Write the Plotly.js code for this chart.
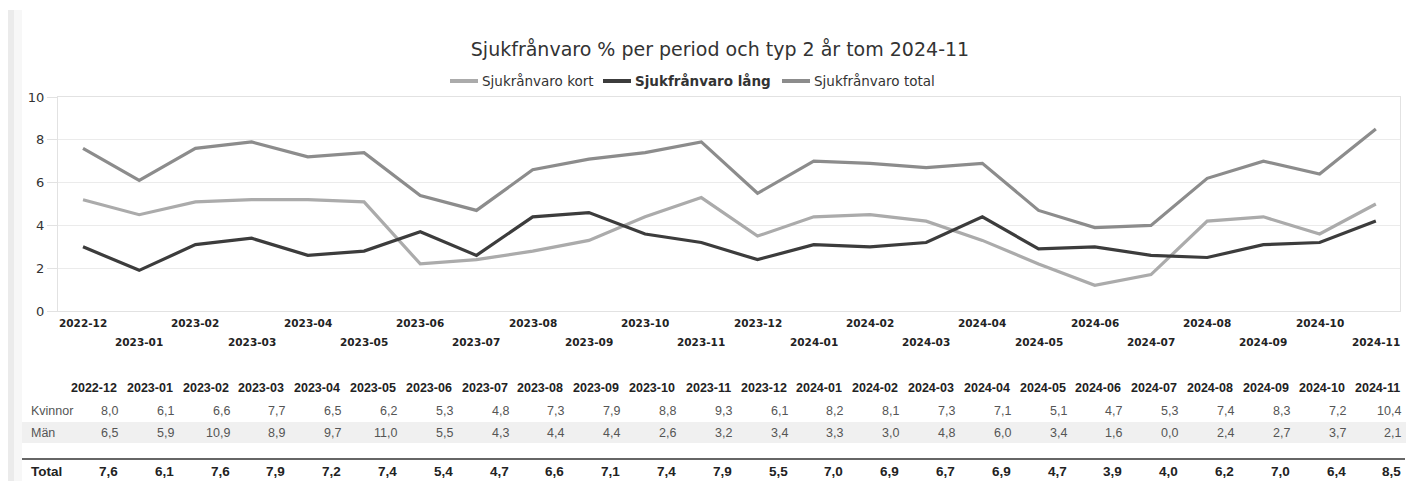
<!DOCTYPE html>
<html>
<head>
<meta charset="utf-8">
<script src="https://cdn.plot.ly/plotly-3.0.1.min.js"></script>
<style>html,body{margin:0;padding:0;background:#fff;}#chart{width:1414px;height:481px;}</style>
</head>
<body>
<div id="chart"></div>
<script>
// ---- data ----
const periods = ["2022-12","2023-01","2023-02","2023-03","2023-04","2023-05","2023-06","2023-07","2023-08","2023-09","2023-10","2023-11","2023-12","2024-01","2024-02","2024-03","2024-04","2024-05","2024-06","2024-07","2024-08","2024-09","2024-10","2024-11"];
const seriesNames = ["Sjukrånvaro kort","Sjukfrånvaro lång","Sjukfrånvaro total"];
const kort  = [5.2,4.5,5.1,5.2,5.2,5.1,2.2,2.4,2.8,3.3,4.4,5.3,3.5,4.4,4.5,4.2,3.3,2.2,1.2,1.7,4.2,4.4,3.6,5.0];
const lang  = [3.0,1.9,3.1,3.4,2.6,2.8,3.7,2.6,4.4,4.6,3.6,3.2,2.4,3.1,3.0,3.2,4.4,2.9,3.0,2.6,2.5,3.1,3.2,4.2];
const total = [7.6,6.1,7.6,7.9,7.2,7.4,5.4,4.7,6.6,7.1,7.4,7.9,5.5,7.0,6.9,6.7,6.9,4.7,3.9,4.0,6.2,7.0,6.4,8.5];
const rowLabels = ["Kvinnor","Män","Total"];
const kvinnor = [8.0,6.1,6.6,7.7,6.5,6.2,5.3,4.8,7.3,7.9,8.8,9.3,6.1,8.2,8.1,7.3,7.1,5.1,4.7,5.3,7.4,8.3,7.2,10.4];
const man     = [6.5,5.9,10.9,8.9,9.7,11.0,5.5,4.3,4.4,4.4,2.6,3.2,3.4,3.3,3.0,4.8,6.0,3.4,1.6,0.0,2.4,2.7,3.7,2.1];
const titleText = "Sjukfrånvaro % per period och typ 2 år tom 2024-11";

// ---- geometry helpers ----
const W = 1414, H = 481;
const M = {l: 58, r: 14, t: 97, b: 170};
const PW = W - M.l - M.r, PH = H - M.t - M.b;
const px2x = p => (p - M.l) / PW;
const px2y = p => (H - M.b - p) / PH;

const colors = ["#ababab", "#3c3c3c", "#8c8c8c"];
const idx = periods.map((_, i) => i);
const fmt = v => v.toFixed(1).replace('.', ',');

const traces = [kort, lang, total].map((ys, k) => ({
  type: 'scatter', mode: 'lines', x: idx, y: ys, name: seriesNames[k],
  line: {color: colors[k], width: 3.2}, showlegend: false, hoverinfo: 'skip'
}));

const annotations = [];
const shapes = [];
const FONT = "DejaVu Sans, Verdana, sans-serif";
const TFONT = "Liberation Sans, Arial, sans-serif";

// x tick labels in two staggered rows
periods.forEach((p, i) => {
  annotations.push({
    xref: 'x', yref: 'paper', x: i, y: px2y(i % 2 === 0 ? 323 : 342),
    text: '<b>' + p + '</b>', showarrow: false, xanchor: 'center', yanchor: 'middle',
    font: {family: FONT, size: 10.5, color: '#222'}
  });
});

// manual legend
const legX = [450, 603, 782];
seriesNames.forEach((n, k) => {
  shapes.push({type: 'line', xref: 'paper', yref: 'paper',
    x0: px2x(legX[k]), x1: px2x(legX[k] + 28), y0: px2y(81), y1: px2y(81),
    line: {color: colors[k], width: 4}});
  annotations.push({xref: 'paper', yref: 'paper', x: px2x(legX[k] + 30), y: px2y(81),
    text: k === 1 ? '<b>' + n + '</b>' : n, showarrow: false, xanchor: 'left', yanchor: 'middle',
    font: {family: FONT, size: 13.5, color: '#333'}});
});

// table
const colRight = i => 119 + i * 55.8;
shapes.push({type: 'rect', xref: 'paper', yref: 'paper', x0: px2x(20), x1: px2x(1406),
  y0: px2y(443), y1: px2y(422), fillcolor: '#f0f0f0', line: {width: 0}, layer: 'below'});
shapes.push({type: 'line', xref: 'paper', yref: 'paper', x0: px2x(22), x1: px2x(1405),
  y0: px2y(459), y1: px2y(459), line: {color: '#666', width: 2}});
const rowY = [411, 433, 471];
const rowData = [kvinnor, man, total];
periods.forEach((p, i) => {
  annotations.push({xref: 'paper', yref: 'paper', x: px2x(colRight(i)), y: px2y(388),
    text: '<b>' + p + '</b>', showarrow: false, xanchor: 'right', yanchor: 'middle',
    font: {family: TFONT, size: 12.5, color: '#222'}});
});
rowLabels.forEach((lab, r) => {
  const bold = r === 2;
  const fs = bold ? 13.5 : 12.5;
  annotations.push({xref: 'paper', yref: 'paper', x: px2x(29), y: px2y(rowY[r]),
    text: bold ? '<b>' + lab + '</b>' : lab, showarrow: false, xanchor: 'left', yanchor: 'middle',
    font: {family: TFONT, size: fs, color: bold ? '#222' : '#555'}});
  rowData[r].forEach((v, i) => {
    annotations.push({xref: 'paper', yref: 'paper', x: px2x(colRight(i) + 1), y: px2y(rowY[r]),
      text: bold ? '<b>' + fmt(v) + '</b>' : fmt(v), showarrow: false, xanchor: 'right', yanchor: 'middle',
      font: {family: TFONT, size: fs, color: bold ? '#222' : '#555'}});
  });
});

// left page strip
shapes.push({type: 'rect', xref: 'paper', yref: 'paper', x0: px2x(8), x1: px2x(14),
  y0: px2y(481), y1: px2y(10), fillcolor: '#ebebeb', line: {width: 0}, layer: 'below'});
shapes.push({type: 'rect', xref: 'paper', yref: 'paper', x0: px2x(14), x1: px2x(22),
  y0: px2y(481), y1: px2y(10), fillcolor: '#f7f7f7', line: {width: 0}, layer: 'below'});

const layout = {
  width: W, height: H, margin: M,
  paper_bgcolor: '#fff', plot_bgcolor: '#fff',
  title: {text: titleText, xref: 'container', yref: 'container', x: 720 / W, y: 1 - 49 / H,
    xanchor: 'center', yanchor: 'middle', font: {family: FONT, size: 19, color: '#333'}},
  showlegend: false,
  xaxis: {range: [-0.445, 23.43], showticklabels: false, showgrid: false, zeroline: false,
    showline: true, mirror: true, linecolor: '#e2e2e2', linewidth: 1, ticks: ''},
  yaxis: {range: [0, 10], dtick: 2, tick0: 0, showgrid: true, gridcolor: '#ebebeb', zeroline: false,
    showline: true, mirror: true, linecolor: '#e2e2e2', ticks: 'outside', ticklen: 10, tickcolor: '#e2e2e2',
    tickfont: {family: FONT, size: 13, color: '#333'}},
  annotations: annotations, shapes: shapes
};

Plotly.newPlot('chart', traces, layout, {staticPlot: true, displayModeBar: false});
</script>
</body>
</html>
